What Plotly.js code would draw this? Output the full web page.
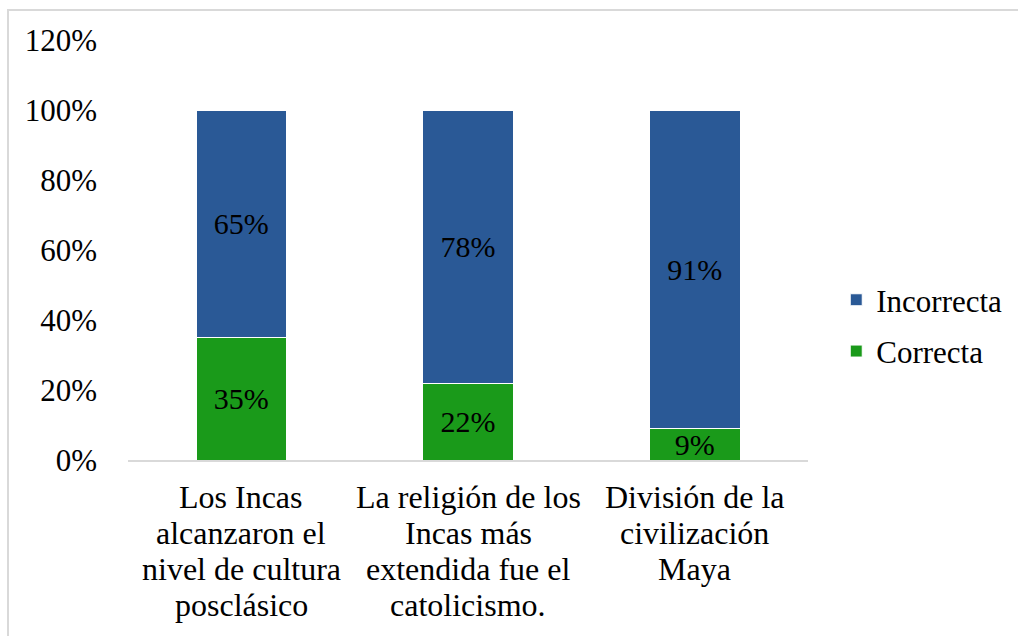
<!DOCTYPE html>
<html>
<head>
<meta charset="utf-8">
<script src="https://cdn.plot.ly/plotly-3.0.1.min.js"></script>
<style>
  html, body { margin: 0; padding: 0; background: #fff; }
  #wrap { position: relative; width: 1018px; height: 636px; overflow: hidden; }
  #chart { position: absolute; left: 0; top: 0; width: 1018px; height: 636px; }
  #frame { position: absolute; left: 7px; top: 9px; width: 1100px; height: 700px;
           border: 2px solid #d9d9d9; pointer-events: none; }
</style>
</head>
<body>
<div id="wrap">
  <div id="chart"></div>
  <div id="frame"></div>
</div>
<script>
const categories = ["Los Incas alcanzaron el nivel de cultura posclásico",
                    "La religión de los Incas más extendida fue el catolicismo.",
                    "División de la civilización Maya"];
const categoryLines = [
  ["Los Incas", "alcanzaron el", "nivel de cultura", "posclásico"],
  ["La religión de los", "Incas más", "extendida fue el", "catolicismo."],
  ["División de la", "civilización", "Maya"]
];
const correcta = [0.35, 0.22, 0.09];
const incorrecta = [0.65, 0.78, 0.91];
const yTicks = [0, 0.2, 0.4, 0.6, 0.8, 1.0, 1.2];

const FONT = 'Liberation Serif, Times New Roman, serif';

const traces = [
  {
    type: 'bar', name: 'Correcta', x: categories, y: correcta,
    legendgroup: 'c', legendrank: 2,
    marker: { color: '#1a9a1a', line: { color: '#ffffff', width: 1 } },
    width: 0.4,
    texttemplate: '%{y:.0%}', textposition: 'inside', insidetextanchor: 'middle',
    constraintext: 'none',
    textfont: { family: FONT, size: 30, color: '#000' },
    hoverinfo: 'none'
  },
  {
    type: 'bar', name: 'Incorrecta', x: categories, y: incorrecta,
    legendgroup: 'i', legendrank: 1,
    marker: { color: '#2a5996', line: { color: '#ffffff', width: 1 } },
    width: 0.4,
    texttemplate: '%{y:.0%}', textposition: 'inside', insidetextanchor: 'middle',
    constraintext: 'none',
    textfont: { family: FONT, size: 30, color: '#000' },
    hoverinfo: 'none'
  }
];

// category labels as one annotation per line (tighter line spacing than tick labels allow)
const annotations = [];
categories.forEach((cat, ci) => {
  categoryLines[ci].forEach((line, li) => {
    annotations.push({
      x: cat, y: 0, xref: 'x', yref: 'y',
      text: line, showarrow: false,
      xanchor: 'center', yanchor: 'middle',
      yshift: -(37 + 36 * li),
      font: { family: FONT, size: 32, color: '#000' }
    });
  });
});

const layout = {
  width: 1018, height: 636,
  paper_bgcolor: '#ffffff', plot_bgcolor: '#ffffff',
  margin: { l: 128, r: 209, t: 40, b: 176 },
  barmode: 'stack',
  font: { family: FONT, size: 30, color: '#000' },
  showlegend: true,
  legend: {
    x: 1.04, xanchor: 'left', y: 0.32, yanchor: 'middle',
    traceorder: 'grouped',
    tracegroupgap: 8,
    font: { family: FONT, size: 31, color: '#000' },
    itemwidth: 30
  },
  annotations: annotations,
  xaxis: {
    type: 'category',
    showline: true, linecolor: '#d9d9d9', linewidth: 2,
    showgrid: false, zeroline: false, ticks: '',
    showticklabels: false
  },
  yaxis: {
    range: [0, 1.2],
    tickvals: yTicks, tickformat: '.0%',
    showline: false, showgrid: false, zeroline: false, ticks: '',
    tickfont: { family: FONT, size: 31, color: '#000' },
    ticklabelstandoff: 30
  }
};

Plotly.newPlot('chart', traces, layout, { staticPlot: true, displayModeBar: false });
</script>
</body>
</html>
